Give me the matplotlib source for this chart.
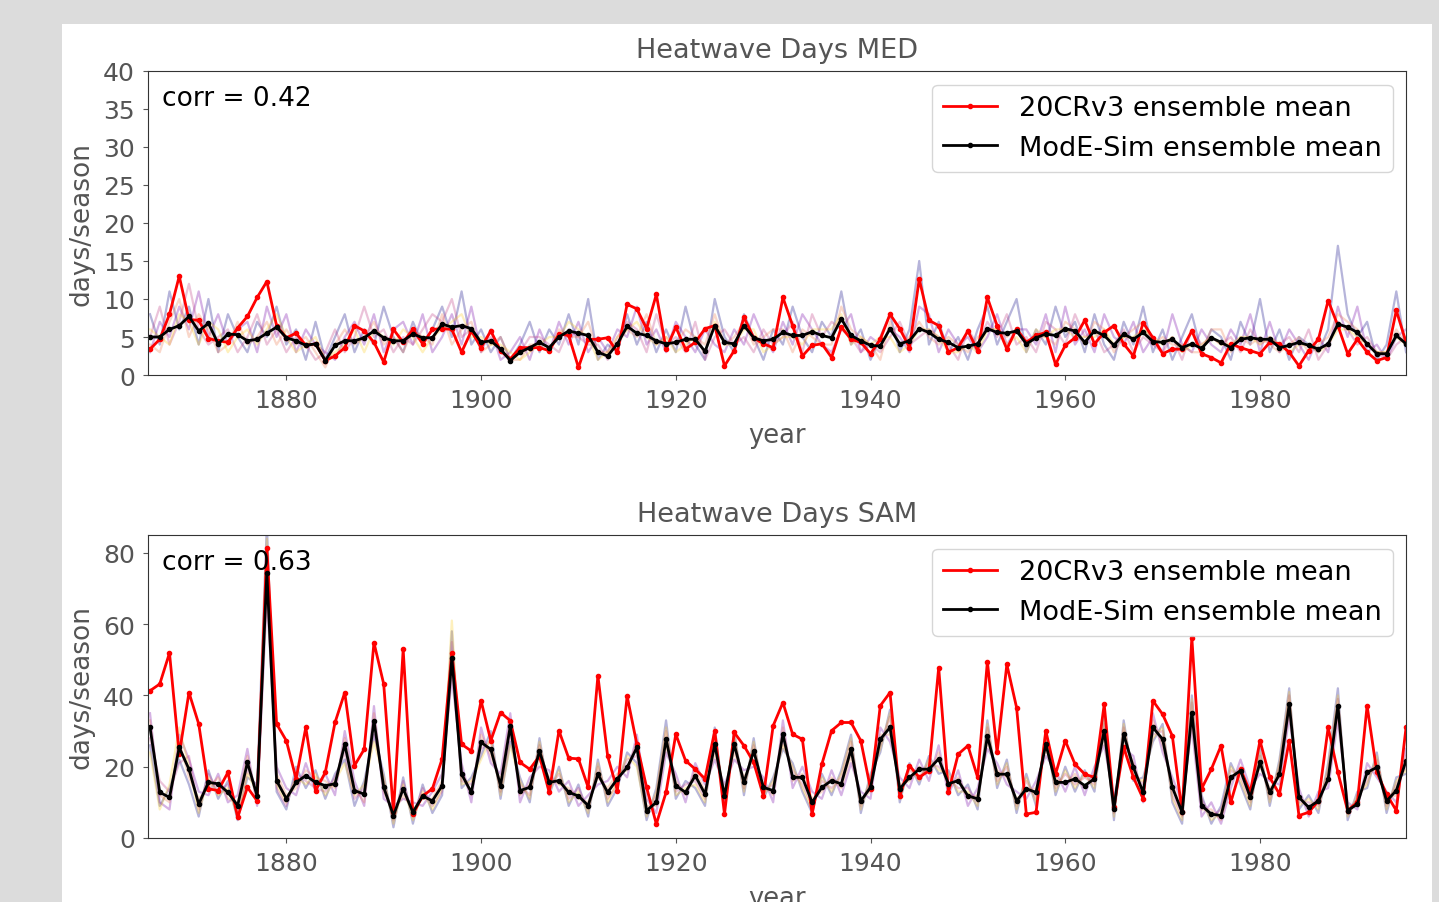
import numpy as np
import matplotlib.pyplot as plt
from matplotlib.patches import Rectangle

years = np.arange(1866, 1996)

# MED heatwave days
red_med = [3.4, 4.7, 8.0, 13.0, 7.3, 7.2, 4.8, 4.5, 4.3, 6.2,
           7.7, 10.2, 12.3, 6.5, 4.9, 5.5, 3.9, 4.1, 1.9, 2.5,
           3.6, 6.5, 5.8, 4.3, 1.7, 6.0, 4.3, 6.0, 4.1, 6.0,
           6.1, 6.0, 3.0, 5.8, 3.6, 5.8, 3.2, 2.1, 3.6, 3.6,
           3.6, 3.2, 5.4, 5.2, 1.0, 4.7, 4.7, 4.9, 3.0, 9.3,
           8.7, 6.1, 10.6, 3.4, 6.3, 3.4, 4.3, 6.1, 6.5, 1.2,
           3.2, 7.6, 4.9, 4.1, 3.6, 10.2, 6.5, 2.5, 3.9, 4.1,
           2.3, 6.3, 4.7, 4.3, 2.8, 4.7, 8.0, 6.1, 3.6, 12.6,
           7.2, 6.5, 3.0, 3.6, 5.8, 3.2, 10.2, 6.5, 3.4, 6.1,
           4.3, 5.2, 5.6, 1.4, 3.9, 4.9, 7.2, 4.1, 5.6, 6.5,
           4.1, 2.5, 6.9, 4.9, 2.8, 3.4, 3.4, 5.8, 2.8, 2.3,
           1.6, 4.1, 3.6, 3.2, 2.8, 4.3, 4.1, 3.0, 1.2, 3.2,
           4.7, 9.8, 6.5, 2.8, 4.7, 3.0, 1.9, 2.3, 8.5, 4.3]
black_med = [5.0, 5.0, 6.0, 6.5, 7.7, 5.8, 6.8, 4.1, 5.4, 5.3,
             4.5, 4.7, 5.5, 6.3, 4.9, 4.5, 3.9, 4.1, 1.9, 3.9,
             4.5, 4.5, 4.9, 5.8, 4.9, 4.5, 4.5, 5.4, 4.9, 4.9,
             6.7, 6.3, 6.5, 6.1, 4.3, 4.5, 3.4, 1.9, 3.0, 3.6,
             4.3, 3.6, 5.0, 5.8, 5.5, 5.2, 3.0, 2.5, 4.1, 6.4,
             5.5, 5.2, 4.5, 4.1, 4.3, 4.7, 4.7, 3.1, 6.5, 4.3,
             4.1, 6.5, 4.9, 4.5, 4.7, 5.6, 5.2, 5.2, 5.7, 5.2,
             4.9, 7.4, 5.2, 4.5, 3.9, 3.8, 6.1, 4.1, 4.5, 6.1,
             5.6, 4.7, 4.3, 3.6, 3.8, 4.1, 6.1, 5.6, 5.5, 5.8,
             4.1, 4.9, 5.4, 5.2, 6.1, 5.8, 4.3, 5.8, 5.2, 3.9,
             5.4, 4.7, 5.6, 4.4, 4.3, 4.7, 3.6, 4.1, 3.5, 4.9,
             4.3, 3.6, 4.7, 4.9, 4.7, 4.7, 3.6, 3.9, 4.3, 3.9,
             3.4, 4.1, 6.7, 6.3, 5.6, 4.1, 2.8, 2.8, 5.2, 4.1]
med_m1 = [8, 4, 11, 6, 9, 4, 10, 3, 8, 5, 3, 7, 5, 9, 4, 6, 2, 7, 2, 5,
          8, 3, 6, 4, 9, 5, 3, 7, 4, 6, 9, 5, 11, 4, 6, 3, 5, 2, 4, 7,
          3, 6, 4, 8, 4, 10, 2, 4, 3, 8, 4, 7, 3, 6, 3, 9, 4, 2, 10, 5,
          3, 8, 5, 2, 6, 4, 9, 5, 3, 7, 5, 11, 4, 6, 2, 5, 8, 3, 6, 15,
          4, 7, 3, 5, 2, 6, 9, 4, 7, 10, 3, 6, 4, 9, 5, 7, 3, 8, 4, 2,
          7, 4, 9, 3, 6, 2, 5, 8, 3, 6, 5, 2, 7, 4, 10, 3, 6, 2, 5, 4,
          3, 6, 17, 8, 5, 7, 2, 4, 11, 3]
med_m2 = [3, 7, 5, 9, 6, 11, 5, 8, 4, 6, 7, 3, 9, 5, 8, 3, 6, 4, 3, 2,
          5, 7, 4, 8, 3, 6, 7, 4, 8, 3, 5, 8, 4, 9, 3, 6, 2, 3, 5, 2,
          6, 3, 7, 4, 7, 3, 5, 3, 6, 5, 9, 4, 6, 3, 7, 5, 3, 6, 4, 3,
          6, 4, 8, 5, 3, 7, 4, 8, 6, 4, 3, 6, 8, 3, 5, 4, 6, 5, 3, 9,
          8, 3, 6, 4, 5, 3, 5, 8, 4, 6, 6, 4, 8, 3, 9, 4, 6, 3, 8, 5,
          4, 7, 3, 5, 3, 8, 4, 3, 6, 4, 3, 6, 4, 8, 3, 7, 3, 6, 4, 2,
          5, 3, 9, 5, 9, 3, 4, 2, 5, 6]
med_m3 = [5, 9, 4, 7, 12, 6, 4, 5, 6, 3, 5, 8, 4, 6, 3, 5, 4, 2, 3, 6,
          3, 5, 9, 5, 6, 3, 5, 4, 6, 8, 7, 10, 5, 6, 4, 5, 3, 2, 3, 5,
          5, 4, 3, 6, 5, 4, 4, 2, 5, 7, 6, 3, 8, 4, 5, 3, 7, 2, 5, 6,
          4, 5, 3, 6, 4, 5, 7, 3, 8, 5, 7, 6, 5, 3, 4, 3, 5, 7, 4, 5,
          6, 5, 4, 2, 6, 4, 7, 5, 8, 4, 5, 3, 7, 6, 4, 8, 5, 6, 3, 4,
          6, 3, 5, 4, 3, 5, 2, 6, 4, 5, 4, 5, 3, 6, 4, 5, 4, 5, 3, 6,
          2, 4, 7, 6, 4, 5, 3, 2, 4, 5]
med_m4 = [4, 3, 7, 10, 5, 8, 6, 3, 4, 7, 4, 5, 7, 4, 6, 4, 5, 3, 1, 4,
          6, 4, 5, 7, 4, 5, 3, 6, 5, 4, 8, 4, 6, 7, 3, 4, 5, 2, 2, 4,
          4, 3, 6, 5, 5, 7, 3, 3, 4, 6, 5, 8, 4, 5, 4, 6, 5, 4, 8, 4,
          5, 7, 4, 5, 6, 6, 3, 6, 5, 4, 4, 9, 6, 5, 4, 2, 7, 4, 5, 7,
          5, 4, 5, 4, 3, 5, 6, 6, 5, 6, 4, 5, 5, 4, 7, 6, 4, 7, 6, 3,
          5, 6, 7, 4, 5, 4, 4, 3, 3, 6, 6, 3, 5, 4, 5, 4, 3, 4, 5, 3,
          4, 5, 8, 7, 6, 4, 3, 3, 6, 4]
med_m5 = [6, 5, 4, 8, 7, 4, 7, 6, 3, 5, 6, 4, 6, 8, 5, 3, 4, 5, 2, 3,
          4, 6, 3, 6, 5, 4, 6, 5, 3, 5, 6, 7, 8, 5, 5, 4, 4, 3, 2, 3,
          4, 5, 5, 7, 6, 5, 2, 3, 5, 6, 7, 5, 4, 5, 3, 4, 5, 3, 7, 4,
          4, 6, 6, 3, 4, 5, 5, 4, 6, 6, 6, 8, 4, 5, 4, 5, 5, 3, 4, 6,
          6, 5, 3, 3, 4, 3, 6, 6, 4, 5, 3, 6, 5, 6, 6, 5, 5, 5, 6, 4,
          5, 5, 6, 5, 4, 5, 3, 4, 4, 5, 4, 4, 5, 5, 4, 5, 4, 3, 4, 4,
          3, 4, 6, 6, 5, 4, 3, 3, 5, 4]

# SAM heatwave days
red_sam = [41.3, 43.2, 51.9, 23.5, 40.8, 32.0, 13.8, 13.3, 18.4, 5.8,
           14.2, 10.4, 81.4, 32.0, 27.3, 16.6, 31.0, 13.3, 18.4, 32.4,
           40.8, 20.3, 24.9, 54.8, 43.2, 7.2, 52.9, 6.7, 11.8, 13.8,
           22.2, 51.9, 26.3, 24.4, 38.5, 27.3, 35.2, 32.9, 21.2, 19.3,
           23.0, 12.8, 30.1, 22.4, 22.2, 14.2, 45.5, 23.0, 13.3, 39.8,
           26.3, 14.2, 3.9, 12.8, 29.1, 21.7, 19.3, 16.6, 30.1, 6.7,
           29.6, 25.9, 21.2, 11.8, 31.5, 38.0, 29.1, 27.7, 6.7, 20.7,
           30.1, 32.4, 32.4, 27.3, 13.8, 37.1, 40.8, 11.8, 20.3, 17.0,
           18.9, 47.8, 12.8, 23.5, 25.9, 17.0, 49.5, 24.0, 48.7, 36.6,
           6.7, 7.2, 30.1, 17.9, 27.3, 20.7, 17.9, 17.0, 37.5, 8.6,
           25.4, 17.0, 11.0, 38.5, 34.7, 28.6, 7.2, 56.2, 13.8, 19.3,
           25.9, 10.0, 19.3, 12.8, 27.3, 17.0, 12.3, 27.3, 6.3, 7.2,
           10.4, 31.0, 18.4, 7.7, 10.0, 37.1, 18.4, 12.3, 7.7, 31.0]
black_sam = [31.0, 12.8, 11.4, 25.4, 19.3, 9.5, 15.6, 15.2, 12.8, 9.1,
             21.2, 11.8, 74.4, 16.1, 11.0, 15.6, 17.5, 15.6, 14.7, 15.2,
             26.3, 13.3, 12.3, 32.9, 14.2, 6.3, 13.8, 7.2, 11.8, 10.4,
             14.7, 50.6, 17.9, 12.8, 26.8, 24.9, 14.7, 31.4, 13.3, 14.2,
             24.4, 15.6, 16.1, 12.8, 11.8, 9.1, 17.9, 12.8, 16.6, 19.8,
             25.4, 7.7, 10.0, 27.7, 14.7, 12.8, 17.5, 12.3, 26.3, 11.8,
             26.3, 15.6, 24.4, 14.2, 13.3, 29.1, 17.0, 17.0, 10.0, 14.2,
             16.1, 15.2, 24.9, 10.4, 14.2, 27.7, 31.0, 13.8, 17.0, 19.3,
             19.3, 22.2, 15.2, 16.1, 11.8, 11.0, 28.6, 17.9, 17.9, 10.4,
             13.8, 12.8, 26.3, 15.6, 15.6, 16.6, 14.7, 16.6, 30.1, 8.1,
             29.1, 19.8, 12.8, 31.0, 27.7, 14.2, 7.2, 35.2, 9.1, 6.7,
             6.3, 17.0, 18.9, 11.4, 21.2, 12.8, 17.9, 37.5, 11.4, 8.6,
             10.4, 16.6, 37.1, 7.7, 9.5, 18.4, 19.8, 10.4, 13.3, 21.7]
sam_m1 = [26, 9, 14, 22, 15, 6, 19, 11, 16, 5, 17, 15, 88, 13, 8, 20, 14, 19, 11, 18,
          22, 9, 16, 29, 18, 3, 17, 4, 15, 7, 12, 58, 14, 17, 23, 30, 11, 27, 17, 10,
          28, 12, 20, 9, 15, 6, 22, 9, 14, 24, 21, 5, 14, 33, 11, 16, 14, 9, 31, 9,
          30, 12, 28, 11, 17, 25, 21, 13, 7, 18, 12, 19, 29, 7, 18, 24, 36, 10, 21, 15,
          23, 18, 19, 12, 15, 8, 33, 14, 22, 7, 18, 9, 30, 12, 20, 13, 19, 13, 34, 5,
          33, 16, 17, 27, 32, 10, 4, 40, 12, 4, 9, 21, 15, 8, 25, 9, 22, 42, 8, 12,
          7, 21, 42, 5, 13, 14, 24, 7, 17, 18]
sam_m2 = [35, 10, 8, 29, 22, 13, 12, 18, 10, 12, 25, 9, 68, 20, 14, 12, 21, 13, 18, 12,
          30, 16, 9, 37, 11, 9, 11, 10, 9, 13, 18, 45, 21, 10, 31, 21, 18, 35, 10, 17,
          20, 19, 13, 16, 9, 12, 15, 16, 20, 17, 29, 11, 7, 24, 18, 10, 21, 15, 22, 15,
          22, 19, 20, 17, 10, 33, 14, 20, 13, 11, 19, 12, 21, 13, 11, 31, 27, 17, 14, 22,
          16, 26, 12, 19, 9, 14, 25, 21, 15, 13, 11, 16, 23, 19, 13, 20, 12, 20, 26, 11,
          25, 23, 10, 35, 24, 17, 10, 31, 6, 10, 4, 14, 22, 14, 18, 16, 15, 34, 14, 6,
          13, 14, 33, 10, 8, 21, 17, 13, 10, 25]
sam_m3 = [28, 16, 13, 21, 23, 8, 18, 13, 15, 7, 19, 14, 80, 14, 9, 18, 16, 14, 13, 17,
          24, 11, 14, 30, 16, 5, 16, 6, 14, 9, 13, 55, 16, 15, 25, 27, 13, 29, 15, 12,
          26, 14, 18, 11, 14, 8, 20, 11, 15, 22, 23, 7, 12, 30, 13, 15, 16, 11, 28, 10,
          28, 14, 26, 13, 15, 27, 19, 15, 9, 16, 14, 17, 27, 9, 16, 26, 34, 12, 19, 17,
          21, 20, 17, 14, 14, 10, 31, 16, 20, 9, 16, 11, 28, 14, 18, 15, 17, 15, 32, 7,
          31, 18, 15, 29, 30, 12, 6, 38, 11, 6, 8, 19, 17, 10, 23, 11, 20, 40, 10, 10,
          9, 19, 39, 7, 11, 16, 22, 9, 15, 20]
sam_m4 = [33, 12, 10, 27, 17, 11, 14, 17, 11, 10, 23, 10, 71, 18, 12, 14, 19, 17, 16, 14,
          28, 14, 10, 35, 13, 7, 12, 8, 11, 11, 16, 48, 19, 12, 29, 23, 16, 33, 12, 15,
          22, 17, 15, 14, 11, 10, 17, 14, 18, 19, 27, 9, 9, 26, 16, 12, 19, 13, 24, 13,
          24, 17, 22, 15, 12, 31, 16, 18, 11, 13, 17, 14, 23, 11, 13, 29, 29, 15, 16, 20,
          18, 24, 14, 17, 11, 12, 27, 19, 17, 11, 13, 14, 25, 17, 15, 18, 14, 18, 28, 9,
          27, 21, 12, 33, 26, 15, 8, 33, 8, 8, 5, 16, 20, 12, 20, 14, 17, 36, 12, 8,
          11, 16, 35, 9, 9, 19, 19, 11, 12, 23]
sam_m5 = [24, 8, 15, 31, 20, 7, 17, 12, 14, 6, 18, 13, 84, 15, 10, 17, 15, 18, 12, 16,
          21, 12, 15, 27, 17, 4, 15, 5, 13, 8, 14, 61, 15, 16, 22, 28, 12, 26, 16, 11,
          27, 13, 19, 10, 13, 7, 21, 10, 16, 23, 20, 6, 13, 31, 12, 14, 15, 10, 29, 11,
          29, 13, 27, 12, 16, 26, 20, 14, 8, 17, 13, 18, 28, 8, 17, 25, 35, 11, 20, 16,
          22, 19, 18, 13, 13, 9, 32, 15, 21, 8, 17, 10, 29, 13, 19, 14, 18, 14, 33, 6,
          32, 17, 16, 28, 31, 11, 5, 39, 10, 5, 7, 20, 16, 9, 24, 10, 21, 41, 9, 11,
          8, 20, 40, 6, 12, 15, 23, 8, 16, 19]

panels = [
    ("Heatwave Days MED", "corr = 0.42", red_med, black_med,
     [med_m1, med_m2, med_m3, med_m4, med_m5], (0, 40), np.arange(0, 41, 5)),
    ("Heatwave Days SAM", "corr = 0.63", red_sam, black_sam,
     [sam_m1, sam_m2, sam_m3, sam_m4, sam_m5], (0, 85), np.arange(0, 81, 20)),
]

grey = "#555555"
fig = plt.figure(figsize=(14.39, 9.03), dpi=100)
fig.patch.set_facecolor("#dcdcdc")
fig.patches.append(Rectangle((62 / 1439, 0), (1432 - 62) / 1439, 1 - 25 / 903,
                             transform=fig.transFigure, facecolor="white",
                             edgecolor="none", zorder=-10))

rects = [[0.1029, 0.5836, 0.8742, 0.3367], [0.1029, 0.0709, 0.8742, 0.3355]]
cols = plt.cm.plasma(np.linspace(0.0, 0.9, 5))

for rect, (title, corr, red, black, members, ylim, yt) in zip(rects, panels):
    ax = fig.add_axes(rect)
    for k, m in enumerate(members):
        ax.plot(years, m, color=cols[k], alpha=0.3, lw=1.6)
    ax.plot(years, red, ".-", color="red", lw=2, ms=6, label="20CRv3 ensemble mean")
    ax.plot(years, black, ".-", color="black", lw=2, ms=6, label="ModE-Sim ensemble mean")
    ax.set_xlim(1865.8, 1995)
    ax.set_ylim(*ylim)
    ax.set_yticks(yt)
    ax.set_xticks(np.arange(1880, 1981, 20))
    ax.tick_params(labelsize=18, colors=grey, labelcolor=grey, pad=6)
    for s in ax.spines.values():
        s.set_color("#333333")
    ax.set_title(title, fontsize=19.5, color=grey, pad=10)
    ax.set_xlabel("year", fontsize=18.5, color=grey, labelpad=7)
    ax.set_ylabel("days/season", fontsize=19, color=grey, labelpad=6)
    ax.text(0.011, 0.91, corr, transform=ax.transAxes, fontsize=19, va="center")
    ax.legend(loc="upper right", fontsize=19.5, numpoints=1)

fig.savefig("out.png", dpi=100)
